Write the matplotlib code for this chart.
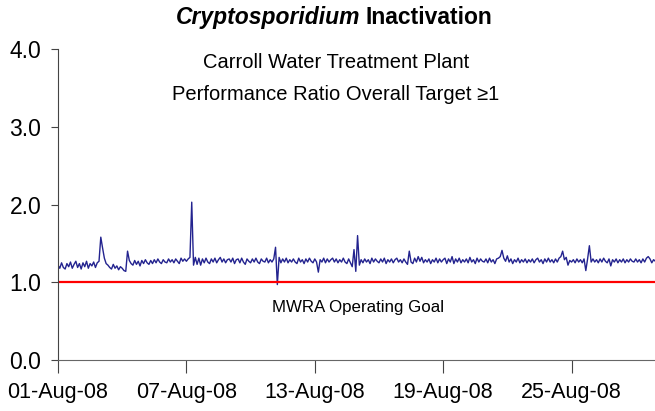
import numpy as np
import pandas as pd
import matplotlib
matplotlib.use("Agg")
import matplotlib.pyplot as plt
import matplotlib.dates as mdates

plt.rcParams['font.family'] = ['Liberation Sans', 'DejaVu Sans']

# performance ratio, one reading every 2 hours, 01-Aug-08 onwards (one row per day)
ratio_by_day = [
    [1.22, 1.18, 1.25, 1.19, 1.17, 1.24, 1.20, 1.26, 1.18, 1.23, 1.27, 1.19],
    [1.24, 1.17, 1.25, 1.20, 1.27, 1.18, 1.24, 1.21, 1.26, 1.19, 1.25, 1.27],
    [1.58, 1.44, 1.31, 1.24, 1.22, 1.19, 1.17, 1.23, 1.18, 1.21, 1.16, 1.20],
    [1.18, 1.15, 1.14, 1.40, 1.28, 1.24, 1.22, 1.28, 1.23, 1.27, 1.21, 1.28],
    [1.24, 1.29, 1.25, 1.23, 1.28, 1.24, 1.29, 1.25, 1.30, 1.26, 1.24, 1.29],
    [1.26, 1.25, 1.30, 1.26, 1.29, 1.25, 1.30, 1.27, 1.24, 1.31, 1.27, 1.30],
    [1.27, 1.30, 1.32, 2.03, 1.22, 1.32, 1.23, 1.31, 1.22, 1.30, 1.25, 1.31],
    [1.26, 1.24, 1.30, 1.26, 1.31, 1.25, 1.29, 1.32, 1.26, 1.30, 1.25, 1.29],
    [1.30, 1.26, 1.31, 1.24, 1.29, 1.30, 1.25, 1.31, 1.26, 1.23, 1.30, 1.27],
    [1.25, 1.30, 1.26, 1.31, 1.26, 1.24, 1.30, 1.27, 1.26, 1.31, 1.25, 1.29],
    [1.26, 1.30, 1.45, 0.97, 1.32, 1.25, 1.30, 1.26, 1.31, 1.25, 1.29, 1.26],
    [1.30, 1.26, 1.24, 1.31, 1.26, 1.29, 1.24, 1.30, 1.26, 1.31, 1.27, 1.25],
    [1.30, 1.26, 1.13, 1.29, 1.26, 1.31, 1.25, 1.30, 1.26, 1.29, 1.31, 1.26],
    [1.30, 1.25, 1.29, 1.26, 1.31, 1.26, 1.24, 1.30, 1.25, 1.20, 1.42, 1.14],
    [1.60, 1.22, 1.29, 1.25, 1.30, 1.26, 1.29, 1.24, 1.31, 1.26, 1.30, 1.27],
    [1.25, 1.30, 1.26, 1.31, 1.24, 1.29, 1.26, 1.30, 1.25, 1.29, 1.31, 1.26],
    [1.29, 1.25, 1.30, 1.26, 1.23, 1.40, 1.26, 1.24, 1.31, 1.26, 1.33, 1.27],
    [1.32, 1.25, 1.29, 1.26, 1.30, 1.24, 1.29, 1.26, 1.31, 1.25, 1.30, 1.26],
    [1.29, 1.31, 1.24, 1.30, 1.26, 1.33, 1.24, 1.30, 1.26, 1.31, 1.25, 1.29],
    [1.26, 1.30, 1.25, 1.32, 1.26, 1.29, 1.24, 1.31, 1.26, 1.30, 1.27, 1.26],
    [1.30, 1.25, 1.31, 1.26, 1.29, 1.24, 1.30, 1.31, 1.33, 1.41, 1.31, 1.27],
    [1.34, 1.26, 1.30, 1.24, 1.29, 1.26, 1.31, 1.25, 1.29, 1.26, 1.30, 1.25],
    [1.29, 1.26, 1.30, 1.25, 1.29, 1.31, 1.26, 1.29, 1.24, 1.30, 1.26, 1.31],
    [1.26, 1.29, 1.25, 1.30, 1.26, 1.31, 1.33, 1.40, 1.29, 1.32, 1.22, 1.28],
    [1.26, 1.29, 1.25, 1.30, 1.26, 1.29, 1.25, 1.30, 1.15, 1.30, 1.47, 1.26],
    [1.30, 1.26, 1.29, 1.25, 1.30, 1.26, 1.31, 1.27, 1.25, 1.30, 1.21, 1.29],
    [1.26, 1.30, 1.25, 1.29, 1.26, 1.30, 1.25, 1.29, 1.26, 1.30, 1.27, 1.26],
    [1.30, 1.26, 1.29, 1.25, 1.30, 1.26, 1.31, 1.33, 1.30, 1.25, 1.29, 1.27],
]
ratio = [v for row in ratio_by_day for v in row]
times = pd.date_range("2008-08-01", periods=len(ratio), freq="2h")
goal = 1.0
yticks = [0.0, 1.0, 2.0, 3.0, 4.0]

fig = plt.figure(figsize=(6.55, 4.11), dpi=100)
ax = fig.add_axes([58 / 655, 51 / 411, 597 / 655, 311 / 411])

ax.plot(times, ratio, color="#23238f", lw=1.0)
ax.axhline(goal, color="#ff0000", lw=1.6)

ax.set_ylim(0, 4)
ax.set_xlim(pd.Timestamp("2008-08-01"), pd.Timestamp("2008-08-01") + pd.Timedelta(days=27.9))
ax.set_yticks(yticks)
ax.set_yticklabels([f"{t:.1f}" for t in yticks])
ax.xaxis.set_major_locator(mdates.DayLocator(bymonthday=[1, 7, 13, 19, 25]))
ax.xaxis.set_major_formatter(mdates.DateFormatter("%d-%b-%y"))

for s in ("top", "right"):
    ax.spines[s].set_visible(False)
ax.spines["left"].set_color("#444444")
ax.spines["bottom"].set_color("#666666")
ax.tick_params(axis="y", direction="out", length=5, pad=7, labelsize=16.5, color="#444444")
ax.tick_params(axis="x", direction="out", length=9, pad=7, labelsize=15.5, color="#444444")

ax.text(pd.Timestamp("2008-08-15"), 0.67, "MWRA Operating Goal", ha="center", va="center", fontsize=12.2)

# title: italic genus name + bold word, placed as two pieces
fig.text(0.550, 0.957, "Cryptosporidium", ha="right", va="center",
         fontsize=16.5, fontweight="bold", style="italic")
fig.text(0.558, 0.957, "Inactivation", ha="left", va="center", fontsize=16.5, fontweight="bold")
fig.text(0.513, 0.847, "Carroll Water Treatment Plant", ha="center", va="center", fontsize=14.5)
fig.text(0.513, 0.770, "Performance Ratio Overall Target \u22651", ha="center", va="center", fontsize=14.5)

fig.savefig("out.png", dpi=100)
